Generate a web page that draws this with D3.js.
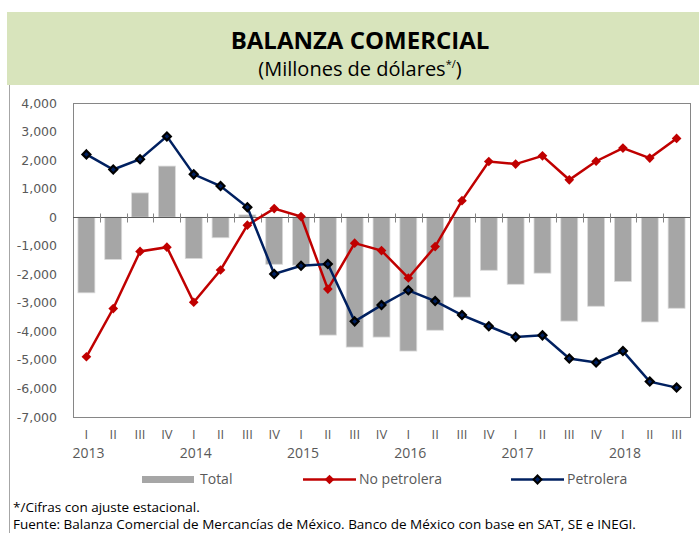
<!DOCTYPE html>
<html>
<head>
<meta charset="utf-8">
<script src="https://cdn.jsdelivr.net/npm/d3@7"></script>
<style>
  body { margin: 0; background: #fff; }
  svg { display: block; }
  text { font-family: "Open Sans", sans-serif; fill: #404040; }
  .y-axis text { font-family: "DejaVu Sans", sans-serif; font-size: 12.5px; fill: #595959; }
  .x-axis text { font-size: 13px; fill: #595959; }
</style>
</head>
<body>
<div id="wrapper"></div>
<script>
// data
const quarters = ["I", "II", "III", "IV", "I", "II", "III", "IV", "I", "II", "III", "IV",
  "I", "II", "III", "IV", "I", "II", "III", "IV", "I", "II", "III"]
const years = ["2013", "2014", "2015", "2016", "2017", "2018"]
const total = [-2650, -1480, 850, 1790, -1450, -720, 80, -1650, -1680, -4130, -4550, -4200,
  -4690, -3960, -2800, -1860, -2350, -1960, -3640, -3120, -2250, -3670, -3190]
const noPetrolera = [-4890, -3200, -1200, -1050, -2980, -1850, -280, 300, 20, -2520, -910, -1170,
  -2130, -1030, 580, 1950, 1860, 2150, 1310, 1960, 2420, 2070, 2760]
const petrolera = [2200, 1670, 2030, 2830, 1500, 1090, 350, -1990, -1700, -1640, -3650, -3080,
  -2560, -2940, -3430, -3820, -4200, -4140, -4950, -5090, -4690, -5760, -5970]
const yTicks = [4000, 3000, 2000, 1000, 0, -1000, -2000, -3000, -4000, -5000, -6000, -7000]

async function drawChart() {
  const width = 699
  const height = 533
  const plot = {left: 73, right: 690, top: 103, bottom: 417}

  const svg = d3.select("#wrapper")
    .append("svg")
    .attr("width", width)
    .attr("height", height)

  // header
  svg.append("rect")
    .attr("x", 7).attr("y", 12)
    .attr("width", width - 7).attr("height", 73)
    .attr("fill", "#d8e4bc")
  svg.append("text")
    .attr("x", 360).attr("y", 49)
    .attr("text-anchor", "middle")
    .style("font-size", "24px").style("font-weight", "bold").style("fill", "#000")
    .text("BALANZA COMERCIAL")
  const sub = svg.append("text")
    .attr("x", 360).attr("y", 76)
    .attr("text-anchor", "middle")
    .style("font-size", "20px").style("fill", "#000")
  sub.append("tspan").text("(Millones de dólares")
  sub.append("tspan").attr("dy", -8).style("font-size", "11px").text("*/")
  sub.append("tspan").attr("dy", 8).text(")")

  // left rule
  svg.append("line")
    .attr("x1", 9.5).attr("x2", 9.5)
    .attr("y1", 85).attr("y2", height)
    .attr("stroke", "#a6a6a6").attr("stroke-width", 1)

  // scales
  const idx = d3.range(quarters.length)
  const xScale = d3.scaleBand()
    .domain(idx)
    .range([plot.left, plot.right])
    .paddingInner(0.37)
    .paddingOuter(0.185)
  const xEdge = d3.scaleLinear()
    .domain([0, quarters.length])
    .range([plot.left, plot.right])
  const yScale = d3.scaleLinear()
    .domain([-7000, 4000])
    .range([plot.bottom, plot.top])
  const cx = i => xScale(i) + xScale.bandwidth() / 2

  // plot frame
  svg.append("rect")
    .attr("x", plot.left + 0.5).attr("y", plot.top + 0.5)
    .attr("width", plot.right - plot.left).attr("height", plot.bottom - plot.top)
    .attr("fill", "none").attr("stroke", "#868686")

  // bars
  svg.append("g").selectAll("rect")
    .data(idx)
    .join("rect")
    .attr("x", i => xScale(i))
    .attr("width", xScale.bandwidth())
    .attr("y", i => yScale(Math.max(0, total[i])))
    .attr("height", i => Math.abs(yScale(total[i]) - yScale(0)))
    .attr("fill", "#a6a6a6")
    .attr("stroke", "#d9d9d9")
    .attr("stroke-width", 0.8)

  // zero line + ticks
  const zero = Math.round(yScale(0)) + 0.5
  svg.append("line")
    .attr("x1", plot.left).attr("x2", plot.right)
    .attr("y1", zero).attr("y2", zero)
    .attr("stroke", "#595959").attr("stroke-width", 1.2)
  svg.append("g").selectAll("line")
    .data(d3.range(1, quarters.length + 1))
    .join("line")
    .attr("x1", k => Math.round(xEdge(k)) + 0.5)
    .attr("x2", k => Math.round(xEdge(k)) + 0.5)
    .attr("y1", zero - 4).attr("y2", zero + 5)
    .attr("stroke", "#868686")

  // y axis
  const locale = d3.formatLocale({decimal: ".", thousands: ",", grouping: [3], currency: ["$", ""], minus: "-"})
  const yAxis = svg.append("g")
    .attr("class", "y-axis")
    .attr("transform", `translate(${plot.left - 13},0)`)
    .call(d3.axisLeft(yScale).tickValues(yTicks).tickSize(0).tickFormat(locale.format(",")))
  yAxis.select(".domain").remove()

  // x axis
  const xAxis = svg.append("g")
    .attr("class", "x-axis")
    .attr("transform", `translate(0,${plot.bottom + 10})`)
    .call(d3.axisBottom(xScale).tickSize(0).tickFormat(i => quarters[i]))
  xAxis.select(".domain").remove()

  svg.append("g").selectAll("text")
    .data(years)
    .join("text")
    .attr("x", (d, j) => cx(j * 4) + 2)
    .attr("y", 458)
    .attr("text-anchor", "middle")
    .style("font-size", "14px").style("fill", "#595959")
    .text(d => d)

  // lines
  const diamond = d3.symbol().type(d3.symbolDiamond2)
  const series = [
    {values: noPetrolera, color: "#c00000", fill: "#c00000", stroke: "#c00000"},
    {values: petrolera, color: "#002060", fill: "#002060", stroke: "#000"},
  ]
  series.forEach(s => {
    const lineGenerator = d3.line()
      .x((d, i) => cx(i))
      .y(d => yScale(d))
    svg.append("path")
      .attr("d", lineGenerator(s.values))
      .attr("fill", "none")
      .attr("stroke", s.color)
      .attr("stroke-width", 2.5)
    svg.append("g").selectAll("path")
      .data(s.values)
      .join("path")
      .attr("transform", (d, i) => `translate(${cx(i)},${yScale(d)})`)
      .attr("d", diamond.size(s.stroke === "#000" ? 40 : 60)())
      .attr("fill", s.fill)
      .attr("stroke", s.stroke)
      .attr("stroke-width", s.stroke === "#000" ? 2.2 : 0)
  })

  // legend
  const legend = svg.append("g")
  legend.append("rect")
    .attr("x", 142).attr("y", 476).attr("width", 52).attr("height", 7)
    .attr("fill", "#a6a6a6")
  legend.append("text").attr("x", 200).attr("y", 484)
    .style("font-size", "14px").style("fill", "#595959").text("Total")
  const legendLines = [
    {x: 303, label: "No petrolera", s: series[0]},
    {x: 511, label: "Petrolera", s: series[1]},
  ]
  legendLines.forEach(l => {
    legend.append("line")
      .attr("x1", l.x).attr("x2", l.x + 53)
      .attr("y1", 479.5).attr("y2", 479.5)
      .attr("stroke", l.s.color).attr("stroke-width", 2.5)
    legend.append("path")
      .attr("transform", `translate(${l.x + 26.5},479.5)`)
      .attr("d", diamond.size(l.s.stroke === "#000" ? 40 : 60)())
      .attr("fill", l.s.fill)
      .attr("stroke", l.s.stroke)
      .attr("stroke-width", l.s.stroke === "#000" ? 2 : 0)
    legend.append("text").attr("x", l.x + 56).attr("y", 484)
      .style("font-size", "14px").style("fill", "#595959").text(l.label)
  })

  // notes
  svg.append("text").attr("x", 13).attr("y", 512)
    .style("font-size", "13.5px").style("fill", "#000")
    .text("*/Cifras con ajuste estacional.")
  svg.append("text").attr("x", 13).attr("y", 529)
    .style("font-size", "13.5px").style("fill", "#000")
    .text("Fuente: Balanza Comercial de Mercancías de México. Banco de México con base en SAT, SE e INEGI.")
}

drawChart()
</script>
</body>
</html>
